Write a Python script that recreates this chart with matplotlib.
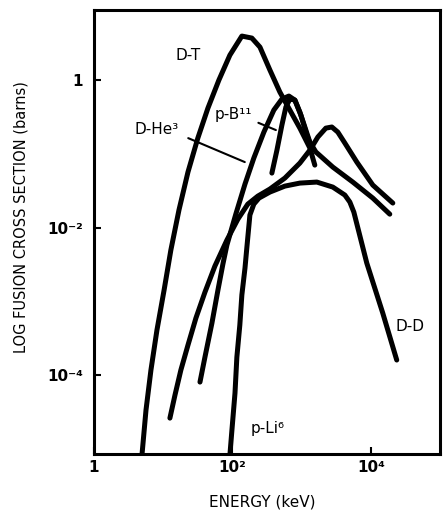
import matplotlib
matplotlib.use("Agg")
import matplotlib.pyplot as plt
from matplotlib.ticker import FixedLocator, NullLocator

plt.rcParams['font.family'] = ['DejaVu Sans']

# ---- data (energy in keV, cross section in barns) ----
dt_energy = [4.93, 5.64, 6.65, 8.12, 10.3, 12.9, 16.9, 22.8, 31.7, 44.3, 63.8, 92.0, 137,
             191, 250, 348, 485, 676, 944, 1316, 1552]
dt_sigma = [8.2e-6, 3.35e-5, 1.17e-4, 4.07e-4, 1.42e-3, 4.95e-3, 0.0173, 0.0566, 0.164,
            0.417, 1.0, 2.18, 3.95, 3.71, 2.80, 1.37, 0.688, 0.392, 0.223, 0.120, 0.0703]

dhe3_energy = [34.0, 40.1, 50.6, 61.8, 72.9, 83.3, 112, 152, 204, 285, 397, 519, 655, 800,
               944, 1114, 1316, 1607, 2825, 5495, 10690, 18800]
dhe3_sigma = [8.04e-5, 1.75e-4, 5.07e-4, 1.42e-3, 3.20e-3, 5.79e-3, 0.0152, 0.0389, 0.0876,
              0.197, 0.392, 0.552, 0.607, 0.535, 0.368, 0.231, 0.144, 0.106, 0.0661,
              0.0414, 0.0251, 0.0152]

dd_energy = [12.5, 14.8, 18.0, 22.8, 29.7, 40.1, 55.9, 83.3, 120, 167, 233, 348, 573, 944,
             1316, 1718, 2240, 2735, 3337, 4217, 6281, 10690, 20800]
dd_sigma = [2.61e-5, 5.36e-5, 1.17e-4, 2.55e-4, 5.93e-4, 1.33e-3, 3.01e-3, 6.77e-3, 0.0130,
            0.0208, 0.0267, 0.0333, 0.0469, 0.0749, 0.112, 0.169, 0.223, 0.231, 0.197,
            0.140, 0.0773, 0.0377, 0.0215]

pb11_energy = [372, 440, 519, 593, 676, 800, 975, 1191, 1406]
pb11_sigma = [0.0548, 0.112, 0.245, 0.431, 0.552, 0.535, 0.335, 0.180, 0.120]

pli6_energy = [92.0, 98.4, 109, 116, 128, 137, 152, 162, 179, 204, 242, 348, 573, 944, 1660,
               2825, 4217, 4977, 5689, 8750, 14890, 23700]
pli6_sigma = [8.22e-6, 1.79e-5, 5.70e-5, 1.75e-4, 4.76e-4, 1.22e-3, 2.82e-3, 5.44e-3,
              0.0148, 0.0208, 0.0251, 0.0303, 0.0365, 0.0401, 0.0414, 0.0354, 0.0276,
              0.0222, 0.0162, 3.30e-3, 6.93e-4, 1.60e-4]

x_ticks = [1, 1e2, 1e4]
x_tick_labels = ['1', '10²', '10⁴']
y_ticks = [1, 1e-2, 1e-4]
y_tick_labels = ['1', '10⁻²', '10⁻⁴']
x_limits = (1.0, 1.0e5)
y_limits = (10 ** -5.07, 10 ** 0.95)

# label positions (energy, sigma) and pointer targets
lbl_dt = ('D-T', 22.8, 2.18)
lbl_dhe3 = ('D-He³', 8.12, 0.217)
tgt_dhe3 = (151, 0.0773)
lbl_pb11 = ('p-B¹¹', 102, 0.346)
tgt_pb11 = (425, 0.210)
lbl_dd = ('D-D', 36560, 4.61e-4)
lbl_pli6 = ('p-Li⁶', 326, 1.91e-5)

# ---- figure ----
fig = plt.figure(figsize=(4.45, 5.12), dpi=100)
ax = fig.add_axes([94 / 445, 1 - 454 / 512, 346 / 445, 444 / 512])
ax.set_xscale('log')
ax.set_yscale('log')

for e, s in [(dt_energy, dt_sigma), (dhe3_energy, dhe3_sigma), (dd_energy, dd_sigma),
             (pb11_energy, pb11_sigma), (pli6_energy, pli6_sigma)]:
    ax.plot(e, s, color='black', lw=3.6, solid_capstyle='round', solid_joinstyle='round')

ax.set_xlim(*x_limits)
ax.set_ylim(*y_limits)

ax.xaxis.set_major_locator(FixedLocator(x_ticks))
ax.yaxis.set_major_locator(FixedLocator(y_ticks))
ax.xaxis.set_minor_locator(NullLocator())
ax.yaxis.set_minor_locator(NullLocator())
ax.set_xticks(x_ticks, x_tick_labels, fontweight='bold', fontsize=11)
ax.set_yticks(y_ticks, y_tick_labels, fontweight='bold', fontsize=11)
ax.tick_params(axis='both', which='major', direction='in', length=5, width=1.5)
ax.tick_params(axis='x', pad=4)
ax.tick_params(axis='y', pad=8)

for sp in ax.spines.values():
    sp.set_linewidth(2.2)

ax.set_xlabel('ENERGY (keV)', fontsize=11)
ax.set_ylabel('LOG FUSION CROSS SECTION (barns)', fontsize=10.5)
ax.xaxis.set_label_coords(0.486, -0.092)
ax.yaxis.set_label_coords(-0.188, 0.534)

for txt, x, y in [lbl_dt, lbl_dd, lbl_pli6]:
    ax.text(x, y, txt, fontsize=11, ha='center', va='center')

ax.annotate(lbl_dhe3[0], xy=tgt_dhe3, xytext=lbl_dhe3[1:], fontsize=11,
            ha='center', va='center',
            arrowprops=dict(arrowstyle='-', lw=1.5, color='black', shrinkA=5, shrinkB=0,
                            relpos=(1.0, 0.15)))
ax.annotate(lbl_pb11[0], xy=tgt_pb11, xytext=lbl_pb11[1:], fontsize=11,
            ha='center', va='center',
            arrowprops=dict(arrowstyle='-', lw=1.5, color='black', shrinkA=3, shrinkB=0,
                            relpos=(1.0, 0.1)))

fig.savefig('out.png', dpi=100)
